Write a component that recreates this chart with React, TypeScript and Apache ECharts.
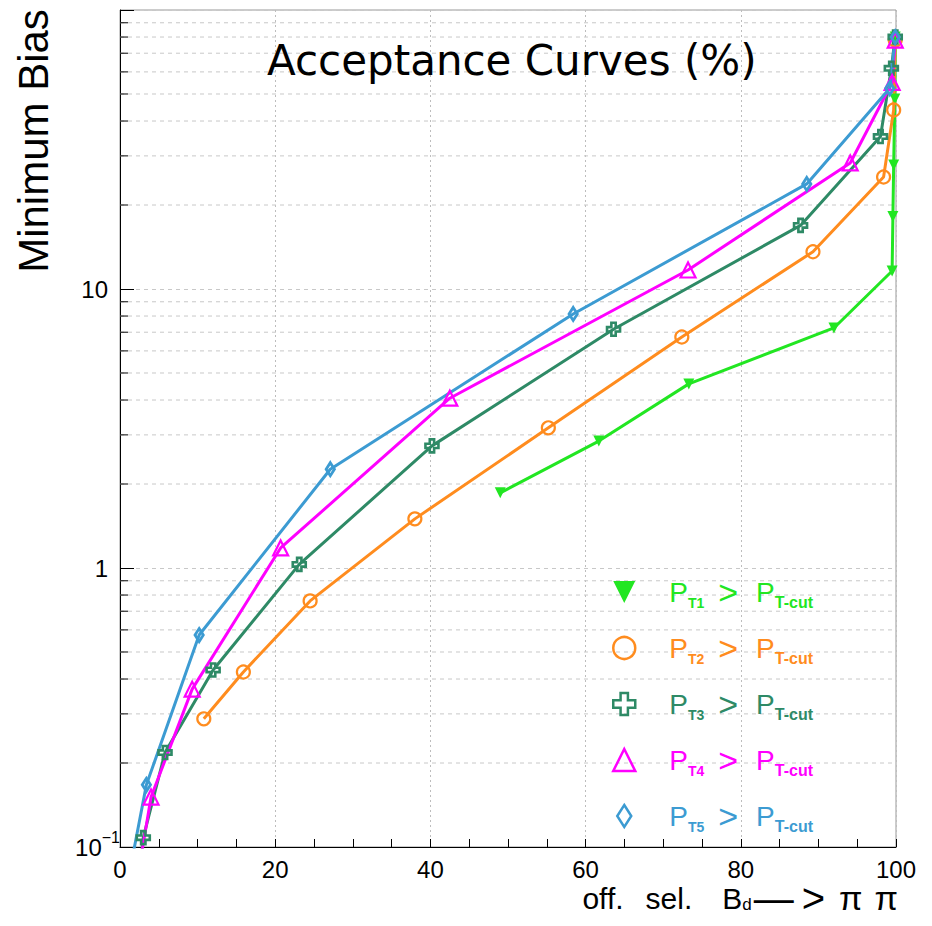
import React, { useEffect, useRef } from 'react';
import * as echarts from 'echarts';

// ---- data ----
const seriesNames = ['PT1', 'PT2', 'PT3', 'PT4', 'PT5'];
const subLabels = ['T1', 'T2', 'T3', 'T4', 'T5'];

const pt1X = [49.0, 61.7, 73.3, 92.0, 99.5, 99.6, 99.7, 99.85, 99.9];
const pt1Y = [1.86, 2.85, 4.57, 7.25, 11.6, 18.2, 27.8, 48, 80];

const pt2X = [10.8, 15.9, 24.5, 38.0, 55.2, 72.4, 89.3, 98.4, 99.7, 99.9];
const pt2Y = [0.288, 0.424, 0.762, 1.5, 3.18, 6.73, 13.6, 25.2, 43.8, 78];

const pt3X = [2.0, 3.0, 5.8, 12.0, 23.1, 40.2, 63.6, 87.7, 98.0, 99.4, 99.9];
const pt3Y = [0.06, 0.108, 0.218, 0.431, 1.03, 2.74, 7.17, 16.9, 35.2, 61.8, 80];

const pt4X = [2.0, 4.0, 9.3, 20.7, 42.5, 73.2, 94.1, 99.5, 99.9];
const pt4Y = [0.07, 0.151, 0.368, 1.18, 4.06, 11.7, 28.3, 55, 78];

const pt5X = [1.0, 3.4, 10.2, 27.1, 58.4, 88.5, 99.2, 99.9];
const pt5Y = [0.075, 0.167, 0.575, 2.26, 8.14, 23.8, 52.4, 80];

const xTicks = [0, 20, 40, 60, 80, 100];
const yMinorTicks = [
  0.2, 0.3, 0.4, 0.5, 0.6, 0.7, 0.8, 0.9,
  2, 3, 4, 5, 6, 7, 8, 9,
  20, 30, 40, 50, 60, 70, 80, 90,
];

// ---- styles ----
const FONT = '"Liberation Sans", Arial, Helvetica, sans-serif';
const TITLE_FONT = '"DejaVu Sans", "Liberation Sans", sans-serif';
const COLORS = ['#22e622', '#ff8c1e', '#2e8a66', '#ff00ff', '#3c9bd2'];
const TRI_DOWN = 'path://M0,0 L10,0 L5,10 Z';
const PLUS = 'path://M-1,-3 L1,-3 L1,-1 L3,-1 L3,1 L1,1 L1,3 L-1,3 L-1,1 L-3,1 L-3,-1 L-1,-1 Z';
const DIAMOND = 'path://M0,-11 L7,0 L0,11 L-7,0 Z';

const xs = [pt1X, pt2X, pt3X, pt4X, pt5X];
const ys = [pt1Y, pt2Y, pt3Y, pt4Y, pt5Y];
const symbols = [TRI_DOWN, 'circle', PLUS, 'triangle', DIAMOND];
const symbolSizes = [11, 13, 13, 15, 13];
const hollow = [false, true, true, true, true];
const borderWidths = [0, 2.2, 2.6, 2.2, 2.8];

function legendRich(color: string) {
  return {
    f: { fontSize: 28, fontFamily: FONT, color, padding: [0, 0, 0, 29], lineHeight: 36 },
    s: { fontSize: 14, fontFamily: FONT, fontWeight: 'bold', color, verticalAlign: 'bottom', lineHeight: 16 },
    g: { fontSize: 34, fontFamily: FONT, color, padding: [0, 0, 0, 14], lineHeight: 36 },
    p: { fontSize: 28, fontFamily: FONT, color, padding: [0, 0, 0, 18], lineHeight: 36 },
    c: { fontSize: 16, fontFamily: FONT, fontWeight: 'bold', color, verticalAlign: 'bottom', lineHeight: 18 },
  };
}

export default function App() {
  const ref = useRef<HTMLDivElement>(null);

  useEffect(() => {
    if (!ref.current) return;
    const chart = echarts.init(ref.current, null, { renderer: 'svg' });

    const lineSeries = seriesNames.map((name, i) => ({
      type: 'line',
      name,
      data: xs[i].map((v, j) => [v, ys[i][j]]),
      symbol: symbols[i],
      symbolSize: symbolSizes[i],
      symbolKeepAspect: true,
      showAllSymbol: true,
      clip: true,
      z: 3,
      lineStyle: { color: COLORS[i], width: 3 },
      itemStyle: hollow[i]
        ? { color: 'rgba(0,0,0,0)', borderColor: COLORS[i], borderWidth: borderWidths[i] }
        : { color: COLORS[i], borderWidth: 0 },
      emphasis: { disabled: true },
    }));

    const gridSeries = {
      type: 'custom',
      name: 'minorGrid',
      silent: true,
      z: 1,
      clip: false,
      data: yMinorTicks.map((v) => [0, v]),
      encode: { x: 0, y: 1 },
      renderItem: (params: any, api: any) => {
        const pt = api.coord([0, api.value(1)]);
        const cs = params.coordSys;
        return {
          type: 'group',
          children: [
            {
              type: 'line',
              shape: { x1: cs.x, y1: pt[1], x2: cs.x + cs.width, y2: pt[1] },
              style: { stroke: '#c8c8c8', lineWidth: 1, lineDash: [4, 4] },
            },
            {
              type: 'line',
              shape: { x1: cs.x, y1: pt[1], x2: cs.x + 8, y2: pt[1] },
              style: { stroke: '#000', lineWidth: 1 },
            },
          ],
        };
      },
    };

    const option: any = {
      animation: false,
      backgroundColor: '#fff',
      title: {
        text: 'Acceptance Curves (%)',
        left: 262,
        top: 34,
        textStyle: { fontSize: 42, fontWeight: 'normal', fontFamily: TITLE_FONT, color: '#000' },
      },
      grid: {
        left: 120,
        right: 36,
        top: 10,
        bottom: 79,
        show: true,
        borderColor: '#999',
        borderWidth: 1,
      },
      legend: {
        orient: 'vertical',
        left: 612,
        top: 575,
        padding: 0,
        itemWidth: 22,
        itemHeight: 22,
        itemGap: 21,
        selectedMode: false,
        formatter: (name: string) => {
          const i = seriesNames.indexOf(name);
          return `{f|P}{s|${subLabels[i]}}{g|>}{p|P}{c|T-cut}`;
        },
        data: seriesNames.map((name, i) => ({
          name,
          icon: symbols[i],
          itemStyle: hollow[i]
            ? { color: 'rgba(0,0,0,0)', borderColor: COLORS[i], borderWidth: 2.5 }
            : { color: COLORS[i], borderWidth: 0 },
          textStyle: { color: COLORS[i], fontFamily: FONT, rich: legendRich(COLORS[i]) },
        })),
      },
      xAxis: {
        type: 'value',
        min: xTicks[0],
        max: xTicks[xTicks.length - 1],
        interval: xTicks[1] - xTicks[0],
        axisLine: { show: true, lineStyle: { color: '#000', width: 1 } },
        axisTick: { show: true, inside: true, length: 8, lineStyle: { color: '#000' } },
        minorTick: { show: true, splitNumber: 4, length: 8, lineStyle: { color: '#000' } },
        axisLabel: { fontSize: 24, color: '#000', fontFamily: FONT, margin: 10 },
        splitLine: { show: true, lineStyle: { color: '#bdbdbd', type: [2, 3], width: 1 } },
      },
      yAxis: {
        type: 'log',
        logBase: 10,
        min: 0.1,
        max: 100,
        axisLine: { show: true, lineStyle: { color: '#000', width: 1 } },
        axisTick: { show: true, inside: true, length: 14, lineStyle: { color: '#000' } },
        axisLabel: {
          fontSize: 24,
          color: '#000',
          fontFamily: FONT,
          margin: 12,
          formatter: (v: number) => {
            if (Math.abs(v - 0.1) < 1e-9) return '{n|10}{sup|−1}';
            if (Math.abs(v - 1) < 1e-9) return '1';
            if (Math.abs(v - 10) < 1e-9) return '10';
            return '';
          },
          rich: {
            n: { fontSize: 24, fontFamily: FONT, color: '#000' },
            sup: { fontSize: 16, fontFamily: FONT, color: '#000', verticalAlign: 'top', padding: [0, -12, 20, 0] },
          },
        },
        splitLine: { show: true, lineStyle: { color: '#c8c8c8', type: [4, 4], width: 1 } },
      },
      graphic: [
        {
          type: 'text',
          x: 33,
          y: 141,
          rotation: Math.PI / 2,
          style: {
            text: 'Minimum Bias',
            fontSize: 42,
            fontFamily: FONT,
            fill: '#000',
            textAlign: 'center',
            textVerticalAlign: 'middle',
          },
        },
        {
          type: 'text',
          x: 898,
          y: 898,
          style: {
            text: '{a|off.}{b|sel.}{c|B}{d|d}{e|—}{f|>}{g|π}{h|π}',
            fontSize: 30,
            fontFamily: FONT,
            fill: '#000',
            textAlign: 'right',
            textVerticalAlign: 'middle',
            rich: {
              a: { fontSize: 30, fontFamily: FONT, fill: '#000', lineHeight: 30 },
              b: { fontSize: 30, fontFamily: FONT, fill: '#000', lineHeight: 30, padding: [0, 0, 0, 22] },
              c: { fontSize: 30, fontFamily: FONT, fill: '#000', lineHeight: 30, padding: [0, 0, 0, 30] },
              d: { fontSize: 17, fontFamily: FONT, fill: '#000', lineHeight: 17, verticalAlign: 'bottom' },
              e: { fontSize: 40, fontFamily: FONT, fill: '#000', lineHeight: 30, padding: [0, 0, 0, 2] },
              f: { fontSize: 40, fontFamily: FONT, fill: '#000', lineHeight: 30, padding: [0, 0, 0, 8] },
              g: { fontSize: 34, fontFamily: FONT, fill: '#000', lineHeight: 30, padding: [0, 0, 0, 14] },
              h: { fontSize: 34, fontFamily: FONT, fill: '#000', lineHeight: 30, padding: [0, 0, 0, 12] },
            },
          },
        },
      ],
      series: [gridSeries, ...lineSeries],
    };

    chart.setOption(option);
    return () => {
      chart.dispose();
    };
  }, []);

  return (
    <div
      ref={ref}
      style={{ position: 'fixed', left: 0, top: 0, width: 932, height: 926, background: '#fff' }}
    />
  );
}
